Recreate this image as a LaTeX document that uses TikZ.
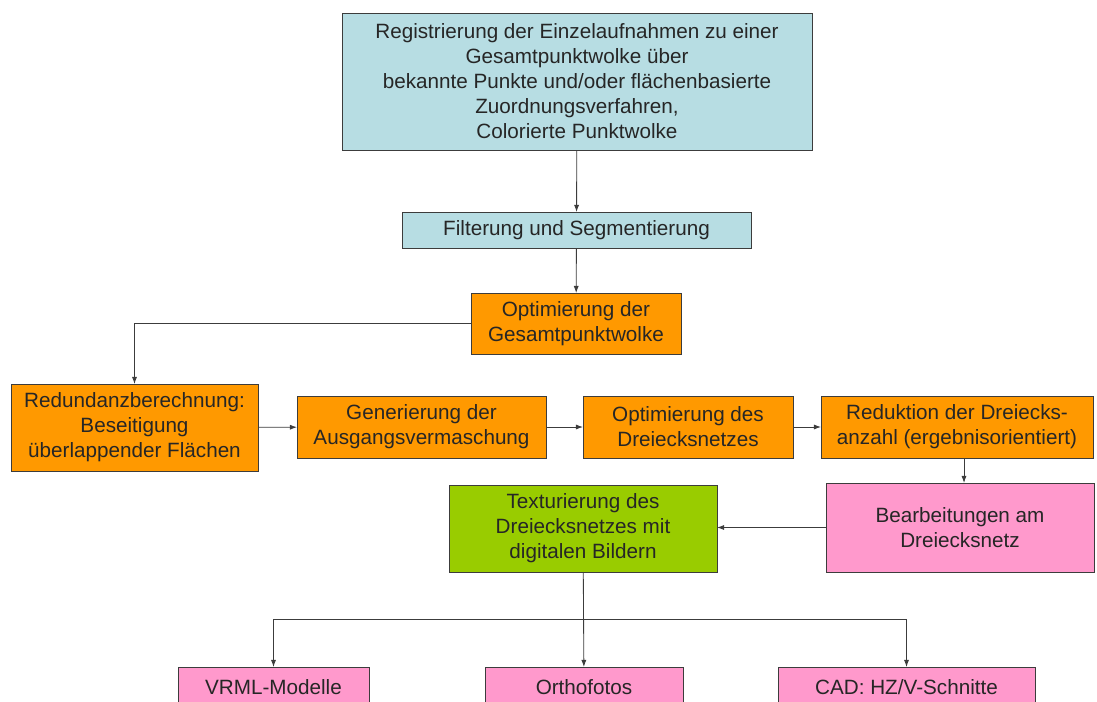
\documentclass[tikz,border=0pt]{standalone}
\usepackage{fontspec}
\setmainfont{Liberation Sans}
\usetikzlibrary{arrows.meta}
\definecolor{hellblau}{RGB}{183,221,227}
\definecolor{orange}{RGB}{255,153,0}
\definecolor{gruen}{RGB}{153,204,0}
\definecolor{rosa}{RGB}{255,153,204}
\definecolor{linie}{RGB}{60,60,60}
\begin{document}
\begin{tikzpicture}[x=0.025cm,y=-0.025cm,
  box/.style={draw=linie,line width=0.6pt,inner sep=0pt,outer sep=0pt,align=center,
    text=black!85,font=\fontsize{14.7}{17.8}\selectfont},
  pfeil/.style={draw=linie,line width=0.6pt,arrows={-Latex[length=5pt,width=3.6pt]}}]

\useasboundingbox (0,0) rectangle (1097,702);
\clip (0,0) rectangle (1097,702);

% Kaesten
\node[box,fill=hellblau,minimum width=11.75cm,minimum height=3.425cm] (reg) at (577,81.5)
  {Registrierung der Einzelaufnahmen zu einer\\Gesamtpunktwolke über\\bekannte Punkte und/oder flächenbasierte\\Zuordnungsverfahren,\\Colorierte Punktwolke};
\node[box,fill=hellblau,minimum width=8.725cm,minimum height=0.9cm] (filt) at (576.5,230)
  {Filterung und Segmentierung};
\node[box,fill=orange,minimum width=5.25cm,minimum height=1.525cm] (optg) at (576,323.5)
  {Optimierung der\\Gesamtpunktwolke};
\node[box,fill=orange,minimum width=6.175cm,minimum height=2.175cm] (red) at (134.5,427.5)
  {Redundanzberechnung:\\Beseitigung\\überlappender Flächen};
\node[box,fill=orange,minimum width=6.225cm,minimum height=1.55cm] (gen) at (421.5,427)
  {Generierung der\\Ausgangsvermaschung};
\node[box,fill=orange,minimum width=5.25cm,minimum height=1.55cm] (optd) at (688,427)
  {Optimierung des\\Dreiecksnetzes};
\node[box,fill=orange,minimum width=6.8cm,minimum height=1.55cm] (redu) at (957,427)
  {Reduktion der Dreiecks-\\anzahl (ergebnisorientiert)};
\node[box,fill=rosa,minimum width=6.7cm,minimum height=2.225cm] (bearb) at (960,527.5)
  {Bearbeitungen am\\Dreiecksnetz};
\node[box,fill=gruen,minimum width=6.7cm,minimum height=2.175cm] (tex) at (583,528.5)
  {Texturierung des\\Dreiecksnetzes mit\\digitalen Bildern};
\node[box,fill=rosa,minimum width=4.775cm,minimum height=1cm] (vrml) at (273.5,687) {VRML-Modelle};
\node[box,fill=rosa,minimum width=4.95cm,minimum height=1cm] (ortho) at (584,687) {Orthofotos};
\node[box,fill=rosa,minimum width=6.425cm,minimum height=1cm] (cad) at (906.5,687) {CAD: HZ/V-Schnitte};
\coordinate (bus) at (583,619);

% Verbindungen
\draw[pfeil] (reg) -- (filt);
\draw[pfeil] (filt) -- (optg);
\draw[pfeil] (optg.west) -| (red.north);
\draw[pfeil] (red) -- (gen);
\draw[pfeil] (gen) -- (optd);
\draw[pfeil] (optd) -- (redu);
\draw[pfeil] ([xshift=0.175cm]redu.south) -- ([xshift=0.175cm]redu.south |- bearb.north);
\draw[pfeil] (bearb.west) -- (bearb.west -| tex.east);
\draw[pfeil] (tex) -- (ortho);
\draw[pfeil] (bus) -| (vrml.north);
\draw[pfeil] (bus) -| (cad.north);

\end{tikzpicture}
\end{document}
